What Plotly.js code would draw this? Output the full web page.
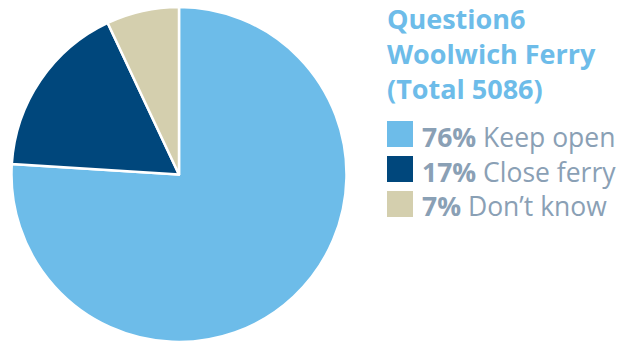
<!DOCTYPE html>
<html>
<head>
<meta charset="utf-8">
<script src="https://cdn.plot.ly/plotly-3.0.1.min.js"></script>
<style>html,body{margin:0;padding:0;background:#fff;}#chart{width:629px;height:342px;}</style>
</head>
<body>
<div id="chart"></div>
<script>
const categories = ["Keep open", "Close ferry", "Don\u2019t know"];
const percents = [76, 17, 7];
const colors = ["#6dbce9", "#00477c", "#d4cfae"];
const titleLines = ["Question6", "Woolwich Ferry", "(Total 5086)"];

const W = 629, H = 342;
const px = x => x / W;
const py = y => 1 - y / H;
const FONT = "'Open Sans', sans-serif";

const shapes = [];
const annotations = [];
categories.forEach((c, i) => {
  const top = 121 + i * 35;
  shapes.push({type: "rect", xref: "paper", yref: "paper",
    x0: px(387), x1: px(413), y0: py(top), y1: py(top + 26),
    fillcolor: colors[i], line: {width: 0}});
  annotations.push({xref: "paper", yref: "paper", x: px(420), y: py(top + 15.5),
    xanchor: "left", yanchor: "middle", showarrow: false,
    text: "<b>" + percents[i] + "%</b> " + c,
    font: {family: FONT, size: 26.5, color: "#8aa0b5"}});
});
annotations.push({xref: "paper", yref: "paper", x: px(385), y: py(53.5),
  xanchor: "left", yanchor: "middle", align: "left", showarrow: false,
  text: titleLines.map(t => "<b>" + t + "</b>").join("<br>"),
  font: {family: FONT, size: 27, color: "#6dbce9"}});

const data = [{
  type: "pie",
  values: percents,
  labels: categories,
  marker: {colors: colors, line: {color: "#ffffff", width: 2.5}},
  sort: false,
  direction: "clockwise",
  rotation: 0,
  textinfo: "none",
  hoverinfo: "label+percent",
  domain: {x: [px(11), px(347)], y: [0, py(7)]}
}];

const layout = {
  width: W, height: H,
  margin: {l: 0, r: 0, t: 0, b: 0},
  showlegend: false,
  paper_bgcolor: "#ffffff",
  shapes: shapes,
  annotations: annotations
};

Plotly.newPlot("chart", data, layout, {displayModeBar: false, staticPlot: true});
</script>
</body>
</html>
